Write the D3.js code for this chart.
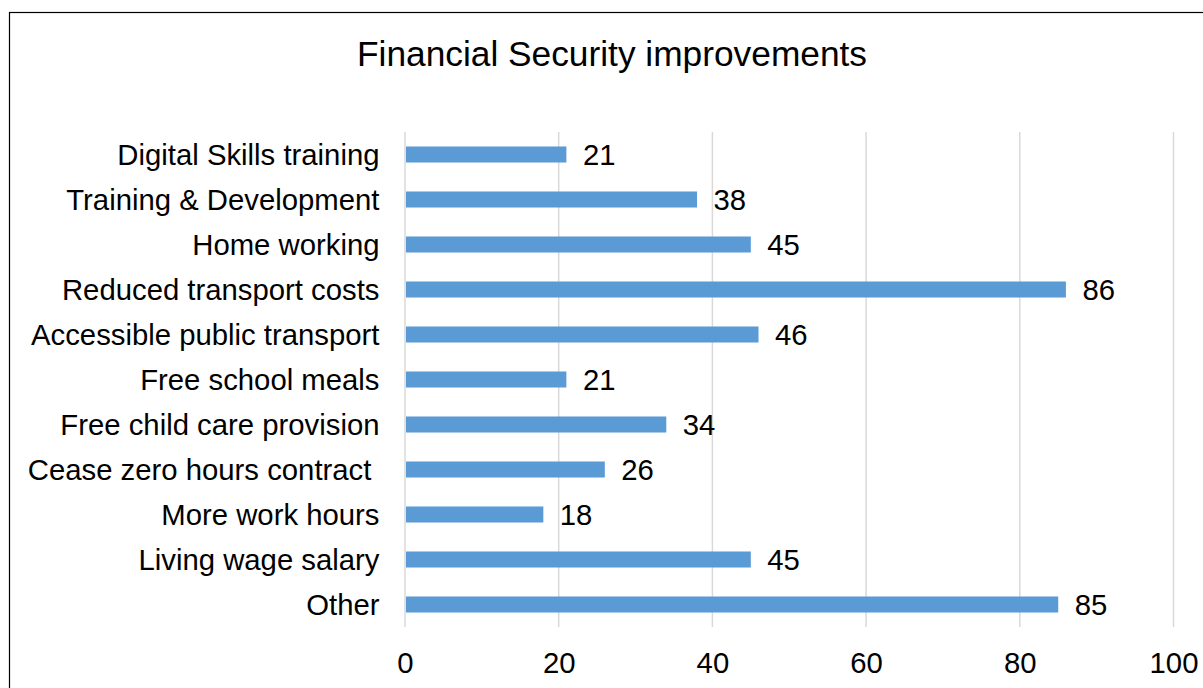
<!DOCTYPE html>
<html>
<head>
<meta charset="utf-8">
<script src="https://cdn.jsdelivr.net/npm/d3@7"></script>
<style>
  html, body { margin: 0; padding: 0; background: #fff; }
  svg { display: block; }
  text { font-family: "Liberation Sans", Arial, sans-serif; fill: #000; }
</style>
</head>
<body>
<svg id="chart" width="1203" height="688"></svg>
<script>
const title = "Financial Security improvements";
const categories = [
  "Digital Skills training",
  "Training & Development",
  "Home working",
  "Reduced transport costs",
  "Accessible public transport",
  "Free school meals",
  "Free child care provision",
  "Cease zero hours contract ",
  "More work hours",
  "Living wage salary",
  "Other"
];
const values = [21, 38, 45, 86, 46, 21, 34, 26, 18, 45, 85];
const xTicks = [0, 20, 40, 60, 80, 100];

const svg = d3.select("#chart");

// outer border (cropped at right/bottom in reference)
svg.append("rect")
  .attr("x", 9.5).attr("y", 12.5)
  .attr("width", 1220).attr("height", 700)
  .attr("fill", "none").attr("stroke", "#000").attr("stroke-width", 1.2);

const x = d3.scaleLinear().domain([0, 100]).range([405, 1173.5]);
const y = d3.scaleBand().domain(categories).range([132, 627])
  .paddingInner(0.644).paddingOuter(0.322);

// title
svg.append("text")
  .attr("x", 612).attr("y", 65.5)
  .attr("text-anchor", "middle")
  .style("font-size", "35.3px")
  .text(title);

// gridlines
svg.append("g").selectAll("line").data(xTicks).join("line")
  .attr("x1", d => x(d)).attr("x2", d => x(d))
  .attr("y1", 132).attr("y2", 627)
  .attr("stroke", "#d9d9d9").attr("stroke-width", 1.5);

// x axis tick labels
const xAxis = d3.axisBottom(x).tickValues(xTicks).tickSize(0).tickPadding(0);
const gx = svg.append("g").attr("transform", "translate(0,672.5)").call(xAxis);
gx.select(".domain").remove();
gx.selectAll("text")
  .attr("y", 0).attr("dy", 0)
  .style("font-size", "29.3px")
  .style("font-family", "'Liberation Sans', Arial, sans-serif")
  .attr("fill", "#000");

// y axis category labels
const yAxis = d3.axisLeft(y).tickSize(0).tickPadding(0);
const gy = svg.append("g").attr("transform", "translate(379.5,0)").call(yAxis);
gy.select(".domain").remove();
gy.selectAll("text")
  .attr("x", 0)
  .attr("dy", "0.36em")
  .style("font-size", "29.3px")
  .style("white-space", "pre")
  .style("font-family", "'Liberation Sans', Arial, sans-serif")
  .attr("fill", "#000");

// bars
const data = categories.map((c, i) => ({ c, v: values[i] }));
svg.append("g").selectAll("rect").data(data).join("rect")
  .attr("x", x(0) + 1)
  .attr("y", d => y(d.c))
  .attr("width", d => x(d.v) - x(0) - 1)
  .attr("height", y.bandwidth())
  .attr("fill", "#5b9bd5");

// value labels
svg.append("g").selectAll("text").data(data).join("text")
  .attr("x", d => x(d.v) + 16.5)
  .attr("y", d => y(d.c) + y.bandwidth() / 2)
  .attr("dy", "0.36em")
  .style("font-size", "29.3px")
  .text(d => d.v);
</script>
</body>
</html>
